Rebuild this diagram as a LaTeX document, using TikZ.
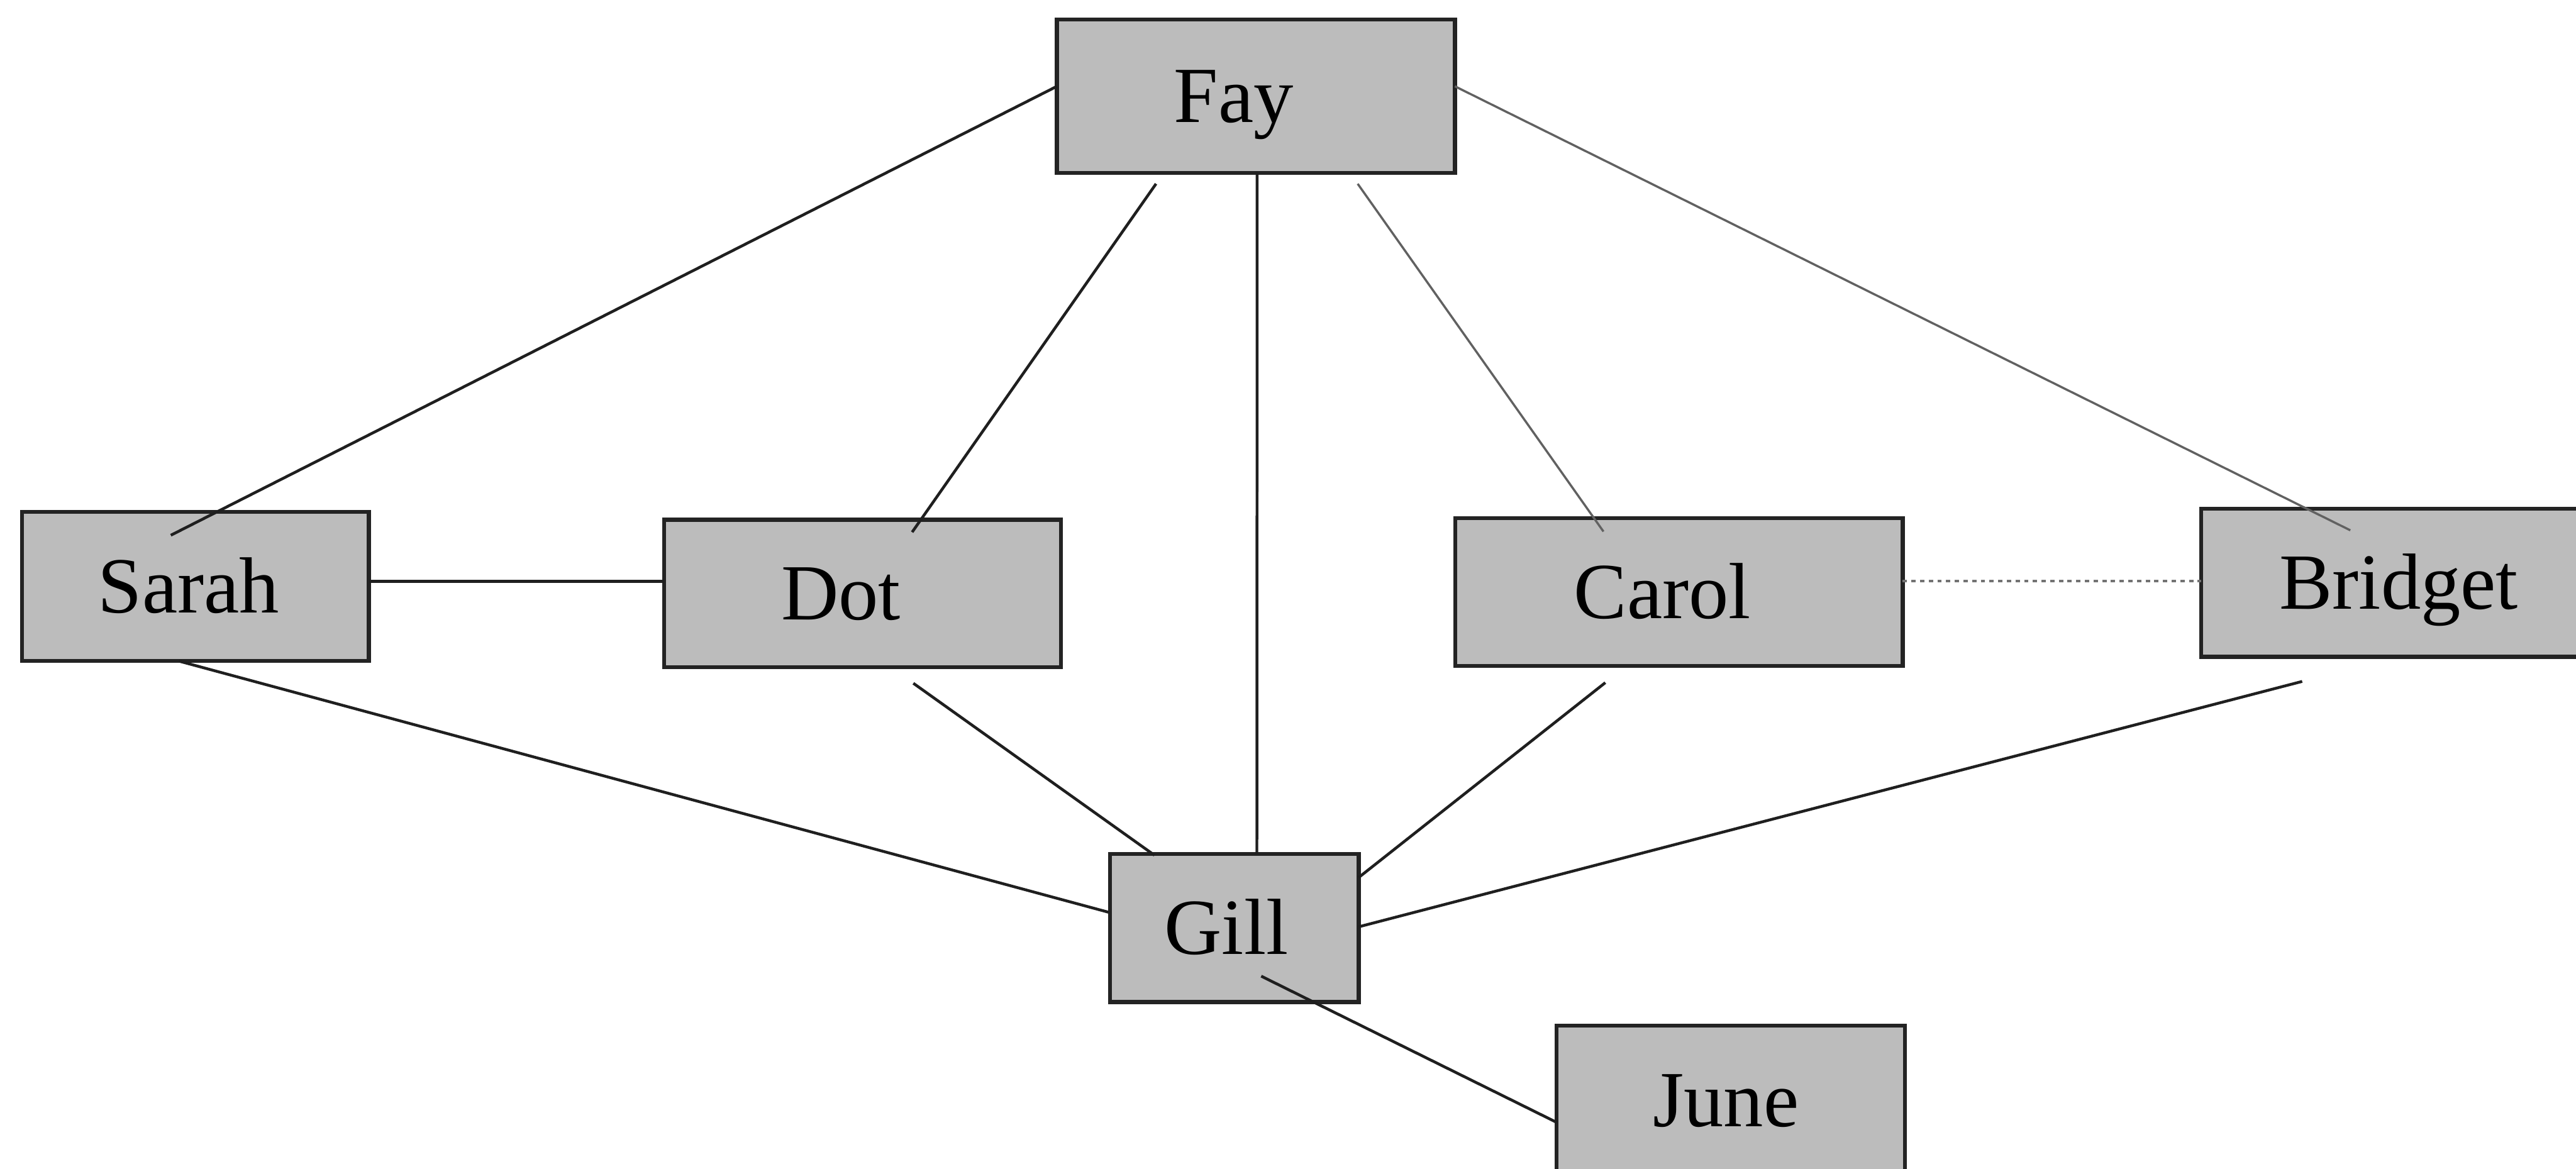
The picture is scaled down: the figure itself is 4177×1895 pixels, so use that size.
\documentclass[tikz,border=0pt]{standalone}
\usepackage{fontspec}
\setmainfont{Liberation Serif}
\usetikzlibrary{calc}
\definecolor{boxfill}{RGB}{188,188,188}
\definecolor{boxedge}{RGB}{35,35,35}
\begin{document}
\begin{tikzpicture}[x=0.01cm,y=-0.01cm,
  person/.style={draw=boxedge, fill=boxfill, line width=1.8pt, rectangle,
                 inner sep=0pt, outer sep=0pt},
  tag/.style={font=\fontsize{36.7}{44}\selectfont, text height=24.3pt,
              text depth=0pt, inner sep=0pt, anchor=center},
  tie/.style={line width=1.3pt, black!88},
  lighttie/.style={line width=1pt, black!62},
  dottie/.style={line width=1.2pt, black!55, dash pattern=on 2pt off 2pt}]
\useasboundingbox (0,0) rectangle (4177,1895);
\fill[white] (0,0) rectangle (4177,1895);

% boxes
\node[person, minimum width=6.45cm, minimum height=2.48cm] (fay)     at (2036.5,156)  {};
\node[person, minimum width=5.62cm, minimum height=2.42cm] (sarah)   at (317,951)     {};
\node[person, minimum width=6.43cm, minimum height=2.39cm] (dot)     at (1398.5,962.5){};
\node[person, minimum width=7.25cm, minimum height=2.40cm] (carol)   at (2722.5,960)  {};
\node[person, minimum width=6.61cm, minimum height=2.40cm] (bridget) at (3899.5,945)  {};
\node[person, minimum width=4.03cm, minimum height=2.40cm] (gill)    at (2001.5,1505) {};
\node[person, minimum width=5.65cm, minimum height=2.42cm] (june)    at (2806.5,1784) {};

% names
\node[tag] (fay-t)     at ([shift={(-36,0)}]fay.center)     {Fay};
\node[tag] (sarah-t)   at ([shift={(-11,0)}]sarah.center)   {Sarah};
\node[tag] (dot-t)     at ([shift={(-35,0)}]dot.center)     {Dot};
\node[tag] (carol-t)   at ([shift={(-27,0)}]carol.center)   {Carol};
\node[tag] (bridget-t) at ([shift={(-10,0)}]bridget.center) {Bridget};
\node[tag] (gill-t)    at ([shift={(-13,0)}]gill.center)    {Gill};
\node[tag] (june-t)    at ([shift={(-8,0)}]june.center)     {June};

% connectors
\draw[tie] ([shift={(0,-16)}]fay.west) -- ([shift={(-40,-83)}]sarah.center);
\draw[tie] ([shift={(-162,18)}]fay.south) -- ([shift={(80.5,-99.5)}]dot.center);
\draw[tie] ([shift={(2,0)}]fay.south) -- ([shift={(36.5,0)}]gill.north);
\draw[lighttie] ([shift={(165,18)}]fay.south) -- ([shift={(-122.5,-98)}]carol.center);
\draw[lighttie] ([shift={(0,-16)}]fay.east) -- ([shift={(-88.5,-85)}]bridget.center);
\draw[tie] ([shift={(0,-8)}]sarah.east) -- ([shift={(0,-19.5)}]dot.west);
\draw[dottie] ([shift={(0,-18)}]carol.east) -- ([shift={(0,-3)}]bridget.west);
\draw[tie] ([shift={(-27,0)}]sarah.south) -- ([shift={(0,-25)}]gill.west);
\draw[tie] ([shift={(82.5,26)}]dot.south) -- ([shift={(-129.5,2)}]gill.north);
\draw[tie] ([shift={(-119.5,27)}]carol.south) -- ([shift={(0,-82)}]gill.east);
\draw[tie] ([shift={(-166.5,40)}]bridget.south) -- ([shift={(0,-2)}]gill.east);
\draw[tie] ([shift={(43.5,78)}]gill.center) -- ([shift={(0,36)}]june.west);
\end{tikzpicture}
\end{document}
